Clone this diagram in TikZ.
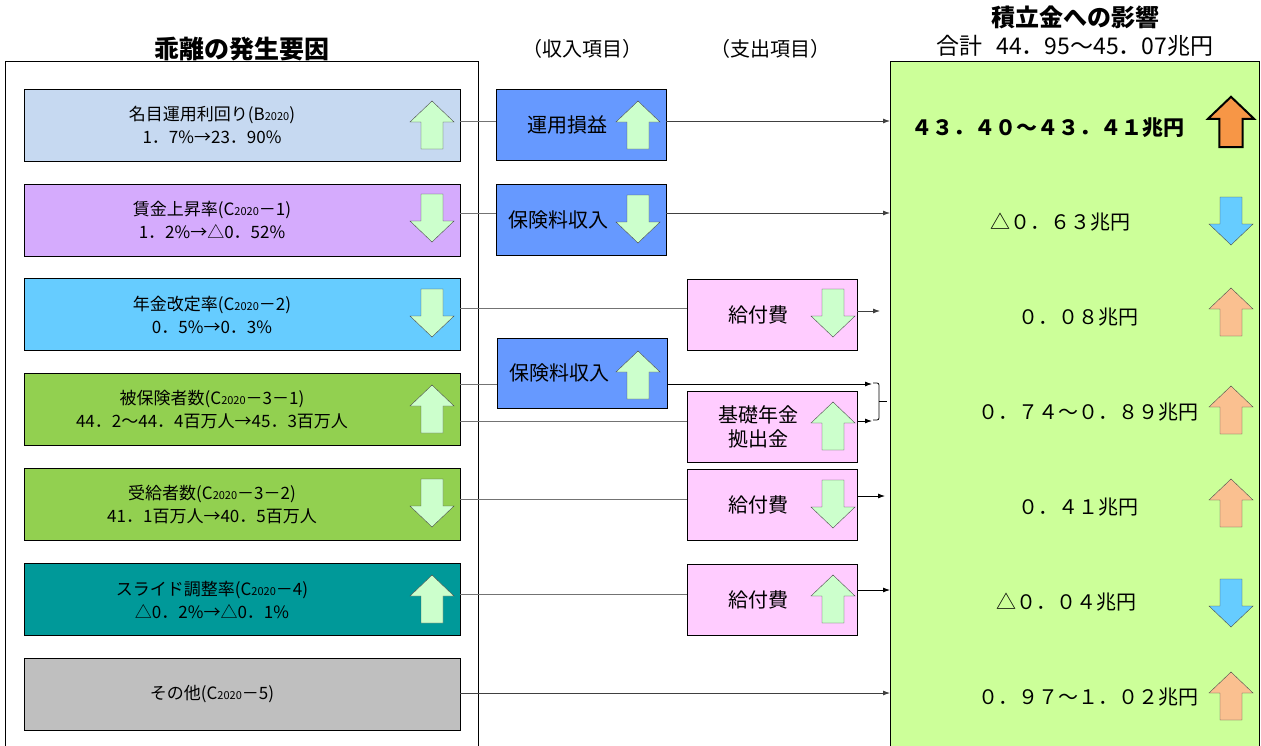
\documentclass[tikz,border=0pt]{standalone}
\usepackage{fontspec}
\setmainfont{Noto Sans CJK JP}
\usetikzlibrary{arrows.meta}

\definecolor{nominal}{HTML}{C6D9F1}
\definecolor{wage}{HTML}{D5ABFD}
\definecolor{revision}{HTML}{66CCFF}
\definecolor{insured}{HTML}{92D050}
\definecolor{slide}{HTML}{009999}
\definecolor{others}{HTML}{BFBFBF}
\definecolor{incblue}{HTML}{6699FF}
\definecolor{exppink}{HTML}{FFCCFF}
\definecolor{panelgreen}{HTML}{CCFF99}
\definecolor{arrgreen}{HTML}{CCFFCC}
\definecolor{arrpeach}{HTML}{FAC090}
\definecolor{arrorange}{HTML}{F79646}
\definecolor{arrblue}{HTML}{66CCFF}

\newcommand{\yrsub}{{\fontsize{11}{11}\selectfont 2020}}

\begin{document}
\begin{tikzpicture}[
	x=1pt, y=-1pt,
	factor/.style={draw=black, line width=0.9pt, minimum width=436, minimum height=72, inner sep=0},
	itembox/.style={draw=black, line width=0.9pt, minimum width=170, minimum height=71, inner sep=0},
	income/.style={itembox, fill=incblue},
	expense/.style={itembox, fill=exppink},
	factext/.style={font=\fontsize{17}{23}\selectfont, align=center, inner sep=0},
	itemtext/.style={font=\fontsize{20}{24}\selectfont, align=center, inner sep=0},
	valtext/.style={font=\fontsize{20}{20}\selectfont, inner sep=0},
	conn/.style={draw=black!55, line width=0.8pt},
	flow/.style={draw=black!75, line width=0.8pt, -{Latex[length=7pt,width=5pt]}},
	upar/.pic={\draw[pic actions] (0,-24) -- (22,-3) -- (11,-3) -- (11,24) -- (-11,24) -- (-11,-3) -- (-22,-3) -- cycle;},
	dnar/.pic={\draw[pic actions] (0,24) -- (22,3) -- (11,3) -- (11,-24) -- (-11,-24) -- (-11,3) -- (-22,3) -- cycle;},
]
\useasboundingbox (0,0) rectangle (1261,745);

%%% HEADINGS
\node[font=\fontsize{25}{25}\selectfont\bfseries] (hfac) at (242,49) {乖離の発生要因};
\node[font=\fontsize{20}{20}\selectfont] (hinc) at (582,49) {（収入項目）};
\node[font=\fontsize{20}{20}\selectfont] (hexp) at (770,49) {（支出項目）};
\node[font=\fontsize{24}{24}\selectfont\bfseries] (himp) at (1075,17) {積立金への影響};
\node[font=\fontsize{23}{23}\selectfont] (htot) at (1075,46) {合計\hspace{0.6em}44．95～45．07兆円};

%%% FRAMES
\draw[line width=0.8pt] (5,760) -- (5,61) -- (478,61) -- (478,760);
\node[draw=black, line width=0.8pt, fill=panelgreen, minimum width=369, minimum height=700, anchor=north west, inner sep=0] (gp) at (890,61) {};

\begin{scope}[]
%%% FACTORS
\node[factor, fill=nominal] (f1) at (242,125) {};
\node[factext] (f1t) at (212,125) {名目運用利回り(B\yrsub)\\1．7\%→23．90\%};
\pic[fill=arrgreen, draw=black!70] at (432,125) {upar};

\node[factor, fill=wage] (f2) at (242,220) {};
\node[factext] (f2t) at (212,220) {賃金上昇率(C\yrsub－1)\\1．2\%→△0．52\%};
\pic[fill=arrgreen, draw=black!70] at (432,218) {dnar};

\node[factor, fill=revision] (f3) at (242,314.5) {};
\node[factext] (f3t) at (212,314.5) {年金改定率(C\yrsub－2)\\0．5\%→0．3\%};
\pic[fill=arrgreen, draw=black!70] at (432,313) {dnar};

\node[factor, fill=insured] (f4) at (242,409.5) {};
\node[factext] (f4t) at (212,409.5) {被保険者数(C\yrsub－3－1)\\44．2～44．4百万人→45．3百万人};
\pic[fill=arrgreen, draw=black!70] at (432,409) {upar};

\node[factor, fill=insured] (f5) at (242,504.5) {};
\node[factext] (f5t) at (212,504.5) {受給者数(C\yrsub－3－2)\\41．1百万人→40．5百万人};
\pic[fill=arrgreen, draw=black!70] at (432,503) {dnar};

\node[factor, fill=slide] (f6) at (242,599.5) {};
\node[factext] (f6t) at (212,599.5) {スライド調整率(C\yrsub－4)\\△0．2\%→△0．1\%};
\pic[fill=arrgreen, draw=black!70] at (432,599) {upar};

\node[factor, fill=others] (f7) at (242,694.5) {};
\node[factext] (f7t) at (212,694.5) {その他(C\yrsub－5)};
\end{scope}

\begin{scope}[]
%%% INCOME AND EXPENSE ITEMS
\node[income] (m1) at (581,125) {};
\node[itemtext] (m1t) at ([xshift=-14]m1.center) {運用損益};
\pic[fill=arrgreen, draw=black!70] at (638,125) {upar};

\node[income] (m2) at (581,220) {};
\node[itemtext] (m2t) at ([xshift=-23]m2.center) {保険料収入};
\pic[fill=arrgreen, draw=black!70] at (638,219) {dnar};

\node[expense] (e1) at (772,314.5) {};
\node[itemtext] (e1t) at ([xshift=-14]e1.center) {給付費};
\pic[fill=arrgreen, draw=black!70] at (833,313) {dnar};

\node[income, minimum height=70] (m3) at (582,373) {};
\node[itemtext] (m3t) at ([xshift=-23]m3.center) {保険料収入};
\pic[fill=arrgreen, draw=black!70] at (638,375) {upar};

\node[expense] (e2) at (772,426.5) {};
\node[itemtext] (e2t) at ([xshift=-14]e2.center) {基礎年金\\拠出金};
\pic[fill=arrgreen, draw=black!70] at (833,426) {upar};

\node[expense] (e3) at (772,504.5) {};
\node[itemtext] (e3t) at ([xshift=-14]e3.center) {給付費};
\pic[fill=arrgreen, draw=black!70] at (833,504) {dnar};

\node[expense] (e4) at (772,599.5) {};
\node[itemtext] (e4t) at ([xshift=-14]e4.center) {給付費};
\pic[fill=arrgreen, draw=black!70] at (833,599) {upar};
\end{scope}

\begin{scope}[]
%%% IMPACT ON RESERVE
\node[valtext, font=\fontsize{21}{21}\selectfont\bfseries] (v1) at (1048,128) {４３．４０～４３．４１兆円};
\pic[fill=arrorange, draw=black, line width=2pt, scale=1.05] at (1231,122) {upar};

\node[valtext] (v2) at (1060,222) {△０．６３兆円};
\pic[fill=arrblue, draw=black!70] at (1231,221) {dnar};

\node[valtext] (v3) at (1078,317) {０．０８兆円};
\pic[fill=arrpeach, draw=black!70] at (1231,312) {upar};

\node[valtext] (v4) at (1088,412) {０．７４～０．８９兆円};
\pic[fill=arrpeach, draw=black!70] at (1231,410) {upar};

\node[valtext] (v5) at (1078,507) {０．４１兆円};
\pic[fill=arrpeach, draw=black!70] at (1231,503) {upar};

\node[valtext] (v6) at (1066,602) {△０．０４兆円};
\pic[fill=arrblue, draw=black!70] at (1231,603) {dnar};

\node[valtext] (v7) at (1088,697) {０．９７～１．０２兆円};
\pic[fill=arrpeach, draw=black!70] at (1231,696) {upar};
\end{scope}

%%% CONNECTORS
\coordinate (b3) at (880,311);
\coordinate (b4a) at (872,384);
\coordinate (b4b) at (872,421);
\coordinate (b5) at (885,496);

\draw[conn] (f1.east |- 0,121) -- (m1.west |- 0,121);
\draw[flow] (m1.east |- 0,121) -- (gp.west |- 0,121);
\draw[conn] (f2.east |- 0,213) -- (m2.west |- 0,213);
\draw[flow] (m2.east |- 0,213) -- (gp.west |- 0,213);
\draw[conn] (f3.east |- 0,308) -- (e1.west |- 0,308);
\draw[flow] (e1.east |- 0,311) -- (b3);
\draw[conn] (f4.east |- 0,384) -- (m3.west |- 0,384);
\draw[flow, draw=black] (m3.east |- 0,384) -- (b4a);
\draw[conn] (f4.east |- 0,421) -- (e2.west |- 0,421);
\draw[flow, draw=black] (e2.east |- 0,421) -- (b4b);
\draw[line width=0.8pt, rounded corners=2] (873,383) -- (879,383) -- (879,420) -- (873,420);
\draw[line width=0.8pt] (879,401) -- (887,401);
\draw[conn] (f5.east |- 0,499) -- (e3.west |- 0,499);
\draw[flow, draw=black] (e3.east |- 0,496) -- (b5);
\draw[conn] (f6.east |- 0,594) -- (e4.west |- 0,594);
\draw[flow, draw=black] (e4.east |- 0,590) -- (gp.west |- 0,590);
\draw[flow] (f7.east |- 0,693) -- (gp.west |- 0,693);

\end{tikzpicture}
\end{document}
